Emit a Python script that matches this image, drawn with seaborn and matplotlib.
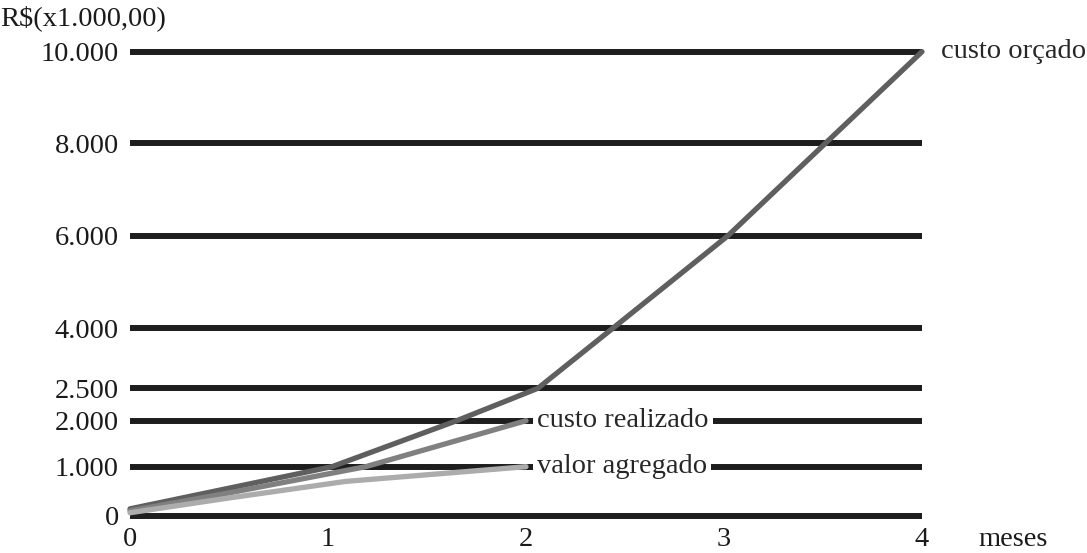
import numpy as np
import matplotlib
matplotlib.use("Agg")
import matplotlib.pyplot as plt
import seaborn as sns

# valores (R$ x 1.000,00)
meses_orcado = [0, 1.02, 1.65, 2.06, 2.44, 3.02, 4]
custo_orcado = [140, 1000, 2000, 2500, 4000, 6000, 10000]

meses_realizado = [0, 0.48, 1.19, 2.0]
custo_realizado = [100, 450, 1000, 2000]

meses_agregado = [0, 0.48, 1.09, 2.0]
valor_agregado = [60, 350, 700, 1000]

y_ticks = [0, 1000, 2000, 2500, 4000, 6000, 8000, 10000]
y_labels = ["0", "1.000", "2.000", "2.500", "4.000", "6.000", "8.000", "10.000"]
x_ticks = [0, 1, 2, 3, 4]

# escala vertical esquemática (não linear) do original
escala_val = [-10000, 0, 1000, 2000, 2500, 4000, 6000, 8000, 10000, 20000]
escala_pos = [-490, 0, 49, 95, 127.4, 187.7, 280, 372.4, 464, 925]


def forward(v):
    return np.interp(v, escala_val, escala_pos)


def inverse(p):
    return np.interp(p, escala_pos, escala_val)


sns.set_style("white")
plt.rcParams["font.family"] = ["Liberation Serif", "DejaVu Serif"]

W, H = 1087, 553
fs = 20.5
fig = plt.figure(figsize=(W / 100, H / 100), dpi=100)
ax = fig.add_axes([130 / W, (H - 515.7) / H, 792 / W, 464 / H])

ax.set_yscale("function", functions=(forward, inverse))
ax.set_xlim(0, 4)
ax.set_ylim(0, 10000)

ax.hlines(y_ticks, 0, 4, color="#1e1e1e", lw=4.3, clip_on=False, zorder=1)

sns.lineplot(x=meses_orcado, y=custo_orcado, ax=ax, color="#5f5f5f",
             lw=3.8, sort=False, clip_on=False, zorder=3)
sns.lineplot(x=meses_realizado, y=custo_realizado, ax=ax, color="#808080",
             lw=3.8, sort=False, clip_on=False, zorder=3)
sns.lineplot(x=meses_agregado, y=valor_agregado, ax=ax, color="#acacac",
             lw=3.8, sort=False, clip_on=False, zorder=3)

caixa = dict(facecolor="white", edgecolor="none", pad=3)
ax.text(2.056, 2000, "custo realizado", fontsize=fs, ha="left", va="center",
        bbox=caixa, zorder=2)
ax.text(2.056, 1000, "valor agregado", fontsize=fs, ha="left", va="center",
        bbox=caixa, zorder=2)
ax.text(4.095, 10000, "custo orçado", fontsize=fs, ha="left", va="center",
        clip_on=False)

ax.set_yticks(y_ticks)
ax.set_yticklabels(y_labels)
ax.set_xticks(x_ticks)
ax.tick_params(axis="both", length=0, labelsize=fs, colors="#1a1a1a")
ax.tick_params(axis="y", pad=8)
ax.tick_params(axis="x", pad=8)
ax.grid(False)
sns.despine(ax=ax, left=True, bottom=True)

fig.text(0 / W, 1 - 18 / H, r"R\$(x1.000,00)", fontsize=fs, ha="left",
         va="center", color="#1a1a1a")
fig.text(978 / W, 1 - 540 / H, "meses", fontsize=fs, ha="left",
         va="center", color="#1a1a1a")

fig.savefig("out.png", dpi=100, facecolor="white")
